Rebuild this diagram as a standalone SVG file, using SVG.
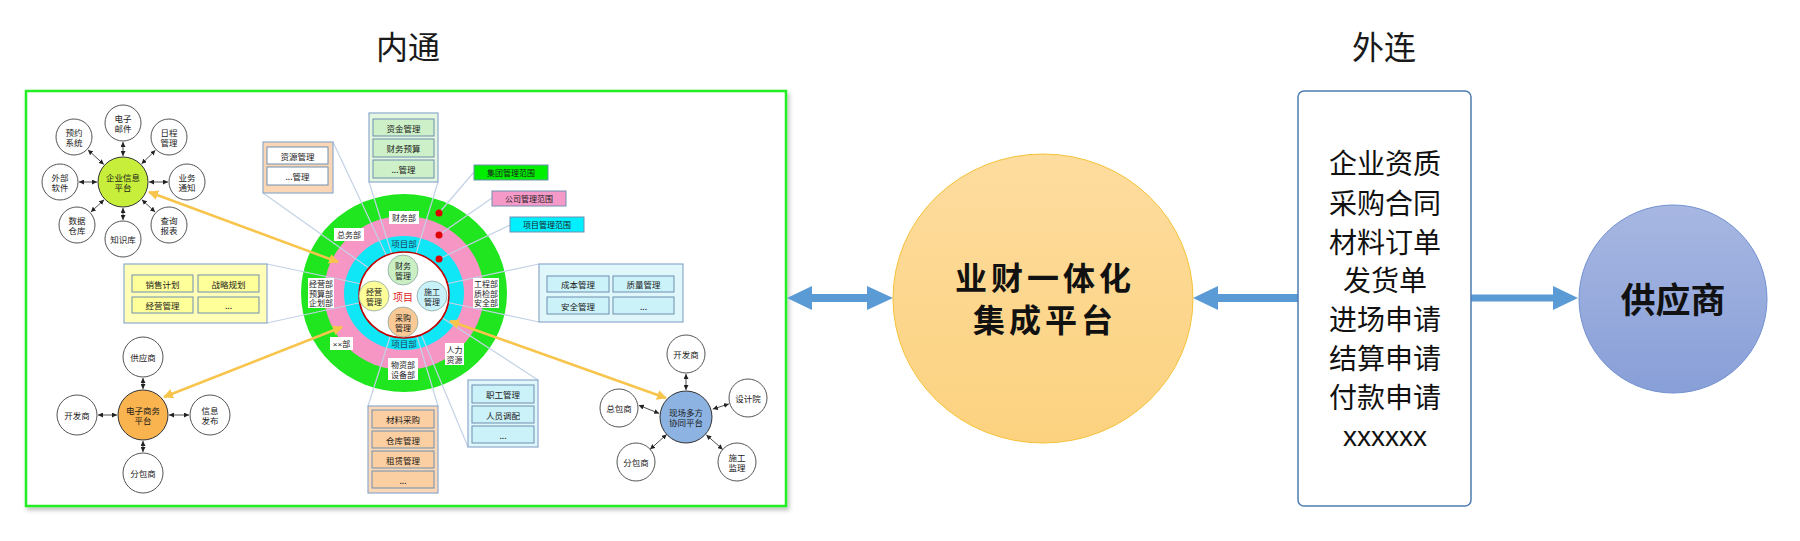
<svg xmlns="http://www.w3.org/2000/svg" width="1800" height="541" viewBox="0 0 1800 541">
<style>
text { font-family: "Noto Sans CJK SC", "Noto Sans", sans-serif; text-anchor: middle; dominant-baseline: central; fill: #1a1a1a; }
.s8 { font-size: 8px; }
.s85 { font-size: 8.5px; }
.sat { fill: #ffffff; stroke: #555555; stroke-width: 1; }
.hubc { stroke: #333333; stroke-width: 1; }
.cn { stroke: #222222; stroke-width: 0.8; fill: none; marker-start: url(#sa); marker-end: url(#sa); }
.ya { stroke: #f7c44c; stroke-width: 2.5; fill: none; marker-start: url(#ya); marker-end: url(#ya); }
.lead { stroke: #c3d2e6; stroke-width: 1.2; fill: none; }
.grp { stroke: #8eaacc; stroke-width: 1.2; }
.cell { stroke: #6f8fb0; stroke-width: 1; }
.lbl { fill: #ffffff; stroke: none; }
.big { font-size: 28px; fill: #111111; }
.mid { font-size: 32px; font-weight: bold; fill: #111111; letter-spacing: 4px; }
</style>
<defs>
<marker id="sa" viewBox="0 0 10 10" refX="10" refY="5" markerUnits="userSpaceOnUse" markerWidth="5" markerHeight="5" orient="auto-start-reverse"><path d="M0,0 L10,5 L0,10 z" fill="#222222"/></marker>
<marker id="ya" viewBox="0 0 10 10" refX="9" refY="5" markerUnits="userSpaceOnUse" markerWidth="10" markerHeight="10" orient="auto-start-reverse"><path d="M0,0 L10,5 L0,10 z" fill="#f7c44c"/></marker>
<filter id="sh" x="-5%" y="-5%" width="110%" height="110%"><feDropShadow dx="2" dy="3" stdDeviation="2" flood-color="#000000" flood-opacity="0.25"/></filter>
<linearGradient id="gMid" x1="0" y1="0" x2="0" y2="1"><stop offset="0" stop-color="#fddc9e"/><stop offset="1" stop-color="#fcd27f"/></linearGradient>
<linearGradient id="gSup" x1="0" y1="0" x2="0" y2="1"><stop offset="0" stop-color="#a7b7e2"/><stop offset="1" stop-color="#889fd7"/></linearGradient>
</defs>
<rect width="1800" height="541" fill="#ffffff"/>

<g id="titles">
<text x="408" y="45" style="font-size:32px">内通</text>
<text x="1384" y="45" style="font-size:32px">外连</text>
</g>

<g id="frame">
<rect x="26" y="91" width="760" height="415" fill="#ffffff" stroke="#22ee22" stroke-width="2.5" filter="url(#sh)"/>
</g>

<g id="ring">
<ellipse cx="404" cy="293" rx="103" ry="99" fill="#1fe61f"/>
<ellipse cx="404" cy="293" rx="80" ry="77" fill="#f596c4"/>
<ellipse cx="404" cy="293" rx="60" ry="57" fill="#0fe6f6"/>
</g>

<g id="leaders">
<line class="lead" x1="263" y1="193" x2="404" y2="293"/>
<line class="lead" x1="333" y1="142" x2="404" y2="293"/>
<line class="lead" x1="369" y1="182" x2="404" y2="293"/>
<line class="lead" x1="438" y1="182" x2="404" y2="293"/>
<line class="lead" x1="267" y1="264" x2="404" y2="293"/>
<line class="lead" x1="267" y1="323" x2="404" y2="293"/>
<line class="lead" x1="539" y1="264" x2="404" y2="293"/>
<line class="lead" x1="539" y1="322" x2="404" y2="293"/>
<line class="lead" x1="538" y1="380" x2="404" y2="293"/>
<line class="lead" x1="468" y1="447" x2="404" y2="293"/>
<line class="lead" x1="368" y1="406" x2="404" y2="293"/>
<line class="lead" x1="438" y1="406" x2="404" y2="293"/>
<line class="lead" x1="474" y1="172" x2="439" y2="213"/>
<line class="lead" x1="492" y1="198" x2="439" y2="235"/>
<line class="lead" x1="510" y1="225" x2="439" y2="259"/>
</g>

<g id="ring-core">
<ellipse cx="404" cy="295" rx="45" ry="43" fill="#ffffff" stroke="#c00000" stroke-width="1.5"/>
<circle cx="403" cy="270" r="15" fill="#c9efc3" stroke="#8aa6a0" stroke-width="0.8"/>
<text class="s8" x="403" y="265">财务</text><text class="s8" x="403" y="275">管理</text>
<circle cx="374" cy="296" r="15" fill="#ffff99" stroke="#8aa6a0" stroke-width="0.8"/>
<text class="s8" x="374" y="291">经营</text><text class="s8" x="374" y="301">管理</text>
<circle cx="432" cy="296" r="15" fill="#c8f1fa" stroke="#8aa6a0" stroke-width="0.8"/>
<text class="s8" x="432" y="291">施工</text><text class="s8" x="432" y="301">管理</text>
<circle cx="403" cy="322" r="15" fill="#fbc996" stroke="#8aa6a0" stroke-width="0.8"/>
<text class="s8" x="403" y="317">采购</text><text class="s8" x="403" y="327">管理</text>
<text x="403" y="296" style="font-size:10px;fill:#e02020">项目</text>
</g>

<g id="ring-labels">
<text x="404" y="243" style="font-size:8.5px;fill:#1f3a5a">项目部</text>
<text x="404" y="343" style="font-size:8.5px;fill:#1f3a5a">项目部</text>
<rect class="lbl" x="389" y="211" width="30" height="13"/><text class="s8" x="404" y="217.5">财务部</text>
<rect class="lbl" x="334" y="228" width="30" height="13"/><text class="s8" x="349" y="234.5">总务部</text>
<rect class="lbl" x="308" y="278" width="26" height="30"/>
<text class="s8" x="321" y="283.5">经营部</text><text class="s8" x="321" y="293">预算部</text><text class="s8" x="321" y="302.5">企划部</text>
<rect class="lbl" x="473" y="278" width="26" height="30"/>
<text class="s8" x="486" y="283.5">工程部</text><text class="s8" x="486" y="293">质检部</text><text class="s8" x="486" y="302.5">安全部</text>
<rect class="lbl" x="330" y="337" width="23" height="13"/><text class="s8" x="341.5" y="343.5"><tspan style="font-family:'Liberation Sans', sans-serif">××</tspan>部</text>
<rect class="lbl" x="445" y="343" width="19" height="22"/>
<text class="s8" x="454.5" y="349">人力</text><text class="s8" x="454.5" y="359">资源</text>
<rect class="lbl" x="388" y="358" width="30" height="22"/>
<text class="s8" x="403" y="364">物资部</text><text class="s8" x="403" y="374">设备部</text>
<circle cx="439" cy="213" r="3.5" fill="#e00000"/>
<circle cx="439" cy="235" r="3.5" fill="#e00000"/>
<circle cx="439" cy="259" r="3.5" fill="#e00000"/>
</g>

<g id="box-ziyuan">
<rect class="grp" x="263" y="142" width="70" height="51" fill="#fad6b4"/>
<rect class="cell" x="267" y="147" width="61" height="17" fill="#ffffff"/><text class="s85" x="297.5" y="155.5">资源管理</text>
<rect class="cell" x="267" y="167" width="61" height="18" fill="#ffffff"/><text class="s85" x="297.5" y="176">...管理</text>
</g>
<g id="box-zijin">
<rect class="grp" x="369" y="113" width="69" height="69" fill="#e3f6e0"/>
<rect class="cell" x="373" y="119" width="61" height="17" fill="#cdf0c8"/><text class="s85" x="403.5" y="127.5">资金管理</text>
<rect class="cell" x="373" y="139" width="61" height="18" fill="#cdf0c8"/><text class="s85" x="403.5" y="148">财务预算</text>
<rect class="cell" x="373" y="160" width="61" height="18" fill="#cdf0c8"/><text class="s85" x="403.5" y="169">...管理</text>
</g>
<g id="scope-labels">
<rect class="cell" x="474" y="165" width="74" height="15" fill="#00ee00"/><text class="s8" x="511" y="172.5">集团管理范围</text>
<rect class="cell" x="492" y="191" width="74" height="15" fill="#f59ac8"/><text class="s8" x="529" y="198.5">公司管理范围</text>
<rect class="cell" x="510" y="217" width="74" height="15" fill="#00f0ff"/><text class="s8" x="547" y="224.5">项目管理范围</text>
</g>
<g id="box-chengben">
<rect class="grp" x="539" y="264" width="144" height="58" fill="#dff7fb"/>
<rect class="cell" x="547" y="276" width="62" height="16" fill="#ccf2f9"/><text class="s85" x="578" y="284">成本管理</text>
<rect class="cell" x="613" y="276" width="61" height="16" fill="#ccf2f9"/><text class="s85" x="643.5" y="284">质量管理</text>
<rect class="cell" x="547" y="297" width="62" height="17" fill="#ccf2f9"/><text class="s85" x="578" y="305.5">安全管理</text>
<rect class="cell" x="613" y="297" width="61" height="17" fill="#ccf2f9"/><text class="s85" x="643.5" y="305.5">...</text>
</g>
<g id="box-xiaoshou">
<rect class="grp" x="124" y="264" width="143" height="59" fill="#ffffb8"/>
<rect class="cell" x="132" y="275" width="61" height="17" fill="#ffff99"/><text class="s85" x="162.5" y="283.5">销售计划</text>
<rect class="cell" x="198" y="275" width="61" height="17" fill="#ffff99"/><text class="s85" x="228.5" y="283.5">战略规划</text>
<rect class="cell" x="132" y="297" width="61" height="16" fill="#ffff99"/><text class="s85" x="162.5" y="305">经营管理</text>
<rect class="cell" x="198" y="297" width="61" height="16" fill="#ffff99"/><text class="s85" x="228.5" y="305">...</text>
</g>
<g id="box-zhigong">
<rect class="grp" x="468" y="380" width="70" height="67" fill="#dff7fb"/>
<rect class="cell" x="472" y="385" width="62" height="18" fill="#ccf2f9"/><text class="s85" x="503" y="394">职工管理</text>
<rect class="cell" x="472" y="406" width="62" height="17" fill="#ccf2f9"/><text class="s85" x="503" y="414.5">人员调配</text>
<rect class="cell" x="472" y="426" width="62" height="17" fill="#ccf2f9"/><text class="s85" x="503" y="434.5">...</text>
</g>
<g id="box-cailiao">
<rect class="grp" x="368" y="406" width="70" height="87" fill="#fbd8b8"/>
<rect class="cell" x="372" y="410" width="62" height="18" fill="#fbcfa2"/><text class="s85" x="403" y="419">材料采购</text>
<rect class="cell" x="372" y="431" width="62" height="17" fill="#fbcfa2"/><text class="s85" x="403" y="439.5">仓库管理</text>
<rect class="cell" x="372" y="451" width="62" height="17" fill="#fbcfa2"/><text class="s85" x="403" y="459.5">租赁管理</text>
<rect class="cell" x="372" y="471" width="62" height="17" fill="#fbcfa2"/><text class="s85" x="403" y="479.5">...</text>
</g>

<g id="hub-qiye">
<circle class="hubc" cx="123" cy="182" r="25" fill="#c6ee3a"/>
<text class="s85" x="123" y="177">企业信息</text><text class="s85" x="123" y="187">平台</text>
<circle class="sat" cx="123" cy="123" r="18"/><text class="s85" x="123" y="118">电子</text><text class="s85" x="123" y="128">邮件</text>
<circle class="sat" cx="169" cy="137" r="18"/><text class="s85" x="169" y="132">日程</text><text class="s85" x="169" y="142">管理</text>
<circle class="sat" cx="187" cy="182" r="18"/><text class="s85" x="187" y="177">业务</text><text class="s85" x="187" y="187">通知</text>
<circle class="sat" cx="169" cy="225" r="18"/><text class="s85" x="169" y="220">查询</text><text class="s85" x="169" y="230">报表</text>
<circle class="sat" cx="123" cy="239" r="18"/><text class="s85" x="123" y="239">知识库</text>
<circle class="sat" cx="77" cy="225" r="18"/><text class="s85" x="77" y="220">数据</text><text class="s85" x="77" y="230">仓库</text>
<circle class="sat" cx="60" cy="182" r="18"/><text class="s85" x="60" y="177">外部</text><text class="s85" x="60" y="187">软件</text>
<circle class="sat" cx="74" cy="137" r="18"/><text class="s85" x="74" y="132">预约</text><text class="s85" x="74" y="142">系统</text>
</g>

<g id="hub-dianzi">
<circle class="hubc" cx="143" cy="415" r="25" fill="#f9b34f"/>
<text class="s85" x="143" y="410">电子商务</text><text class="s85" x="143" y="420">平台</text>
<circle class="sat" cx="143" cy="357" r="20"/><text class="s85" x="143" y="357">供应商</text>
<circle class="sat" cx="77" cy="415" r="20"/><text class="s85" x="77" y="415">开发商</text>
<circle class="sat" cx="210" cy="415" r="20"/><text class="s85" x="210" y="410">信息</text><text class="s85" x="210" y="420">发布</text>
<circle class="sat" cx="143" cy="473" r="20"/><text class="s85" x="143" y="473">分包商</text>
</g>

<g id="hub-xianchang">
<circle class="hubc" cx="686" cy="417" r="26" fill="#8db3e2"/>
<text class="s85" x="686" y="412">现场多方</text><text class="s85" x="686" y="422">协同平台</text>
<circle class="sat" cx="686" cy="354" r="19"/><text class="s85" x="686" y="354">开发商</text>
<circle class="sat" cx="748" cy="398" r="19"/><text class="s85" x="748" y="398">设计院</text>
<circle class="sat" cx="737" cy="462" r="19"/><text class="s85" x="737" y="457">施工</text><text class="s85" x="737" y="467">监理</text>
<circle class="sat" cx="636" cy="462" r="19"/><text class="s85" x="636" y="462">分包商</text>
<circle class="sat" cx="619" cy="408" r="19"/><text class="s85" x="619" y="408">总包商</text>
</g>

<g id="connectors">
<line class="cn" x1="123" y1="156" x2="123" y2="142"/>
<line class="cn" x1="141.6" y1="163.8" x2="155.4" y2="150.3"/>
<line class="cn" x1="149" y1="182" x2="168" y2="182"/>
<line class="cn" x1="142" y1="199.8" x2="155.1" y2="212"/>
<line class="cn" x1="123" y1="208" x2="123" y2="220"/>
<line class="cn" x1="104" y1="199.8" x2="90.9" y2="212"/>
<line class="cn" x1="97" y1="182" x2="79" y2="182"/>
<line class="cn" x1="103.8" y1="164.4" x2="88" y2="149.9"/>
<line class="cn" x1="143" y1="389" x2="143" y2="378"/>
<line class="cn" x1="117" y1="415" x2="98" y2="415"/>
<line class="cn" x1="169" y1="415" x2="189" y2="415"/>
<line class="cn" x1="143" y1="441" x2="143" y2="452"/>
<line class="cn" x1="686" y1="390" x2="686" y2="374"/>
<line class="cn" x1="712.8" y1="409.1" x2="728.9" y2="403.9"/>
<line class="cn" x1="706.3" y1="434.9" x2="722.7" y2="449.4"/>
<line class="cn" x1="666.7" y1="434.4" x2="650.1" y2="449.3"/>
<line class="cn" x1="659.2" y1="413.4" x2="638.8" y2="405.3"/>
<line class="ya" x1="338" y1="262" x2="149" y2="192"/>
<line class="ya" x1="342" y1="327" x2="164" y2="397"/>
<line class="ya" x1="450" y1="321" x2="666" y2="398"/>
<polygon points="787,298 812,286 812,294 867,294 867,286 893,298 867,310 867,302 812,302 812,310" fill="#5b9bd5"/>
<polygon points="1193,298 1218,286 1218,294 1298,294 1298,302 1218,302 1218,310" fill="#5b9bd5"/>
<polygon points="1471,294.5 1553,294.5 1553,286 1578,298 1553,310 1553,301.5 1471,301.5" fill="#5b9bd5"/>
</g>

<g id="platform">
<ellipse cx="1043" cy="298.5" rx="150" ry="144.5" fill="url(#gMid)" stroke="#f6c238" stroke-width="1"/>
<text class="mid" x="1045" y="276">业财一体化</text>
<text class="mid" x="1045" y="318">集成平台</text>
</g>

<g id="doc-list">
<rect x="1298" y="91" width="173" height="415" rx="6" fill="#ffffff" stroke="#4d7cb3" stroke-width="1.5"/>
<text class="big" x="1385" y="162">企业资质</text>
<text class="big" x="1385" y="202">采购合同</text>
<text class="big" x="1385" y="241">材料订单</text>
<text class="big" x="1385" y="279">发货单</text>
<text class="big" x="1385" y="318">进场申请</text>
<text class="big" x="1385" y="357">结算申请</text>
<text class="big" x="1385" y="396">付款申请</text>
<text class="big" x="1385" y="436" style="font-family:'Liberation Sans', sans-serif">xxxxxx</text>
</g>

<g id="supplier">
<circle cx="1673" cy="299" r="94" fill="url(#gSup)" stroke="#7391d1" stroke-width="1"/>
<text x="1673" y="297" style="font-size:35px;font-weight:bold;fill:#111111">供应商</text>
</g>
</svg>
